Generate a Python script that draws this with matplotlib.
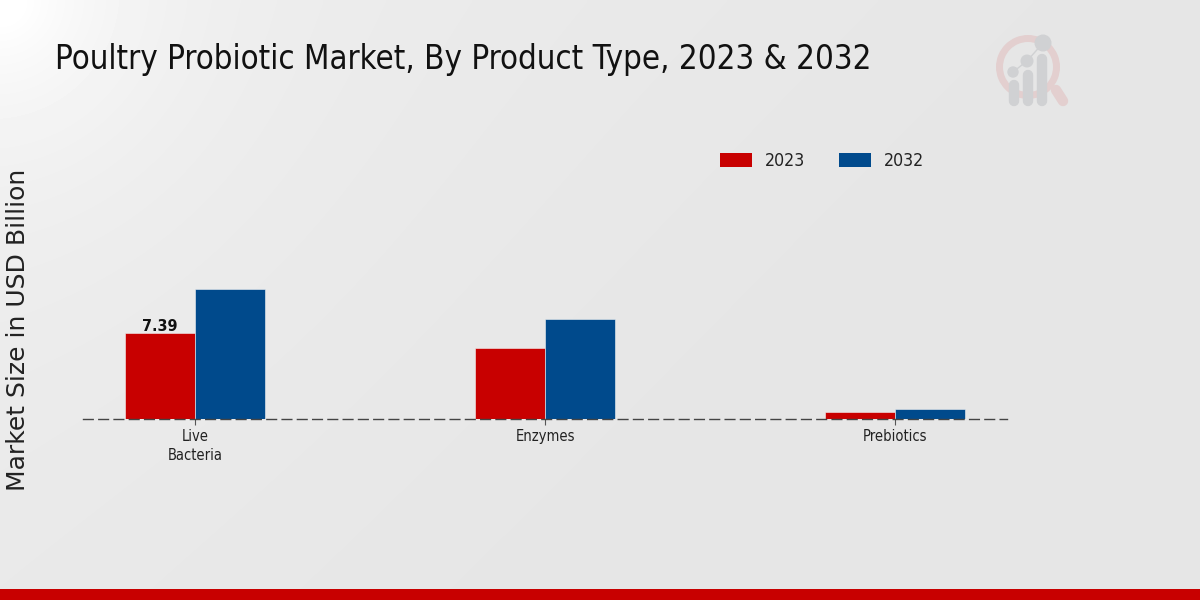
import matplotlib
matplotlib.use("Agg")
import matplotlib.pyplot as plt
from matplotlib.patches import Circle, Wedge
import numpy as np

categories = ["Live\nBacteria", "Enzymes", "Prebiotics"]
values_2023 = [7.39, 6.1, 0.6]
values_2032 = [11.15, 8.6, 0.9]
years = ["2023", "2032"]
RED = "#c80000"
BLUE = "#004a8c"
PINK = "#e3cfcf"
GREY = "#d0d1d3"
COND = dict(family="DejaVu Sans", stretch="condensed")

fig = plt.figure(figsize=(12, 6), dpi=100)

# background gradient, white top left to grey
bg = fig.add_axes([0, 0, 1, 1], zorder=0)
yy, xx = np.mgrid[0:1:150j, 0:1:300j]
dist = (xx * 2 + yy) / 3
shade = 0.9 + 0.085 * np.exp(-np.hypot(xx * 2, yy) / 0.2) + 0.025 * np.clip(1 - dist / 0.6, 0, 1) + 0.003 * np.clip(1 - dist, 0, 1)
bg.imshow(np.clip(shade, 0, 1), cmap="gray", vmin=0, vmax=1, aspect="auto",
          extent=[0, 1200, 600, 0], interpolation="bilinear")
bg.set_xlim(0, 1200)
bg.set_ylim(600, 0)
bg.axis("off")

# logo, in pixel coordinates
bg.add_patch(Wedge((1028, 67), 32, 0, 360, width=7, color=PINK, lw=0))
bg.plot([1056, 1063], [90, 101], color=PINK, lw=7.5, solid_capstyle="round")
for x, top in [(1014, 85), (1028, 75), (1042, 59)]:
    bg.plot([x, x], [top, 101], color=GREY, lw=7.5, solid_capstyle="round", zorder=3)
for x, y, r in [(1013, 72, 5.7), (1027, 61, 6.5), (1043, 43, 8.5)]:
    bg.add_patch(Circle((x, y), r, color=GREY, lw=0, zorder=3))
bg.plot([1013, 1027, 1043], [72, 61, 43], color=GREY, lw=1, zorder=3)

# footer strip
bg.fill_between([0, 1200], 589, 600, color=RED, lw=0)

ax = fig.add_axes([83 / 1200, 181 / 600, 924 / 1200, 279 / 600], zorder=1)
ax.patch.set_alpha(0)
x = np.arange(len(categories))
width = 0.2
ax.bar(x - width / 2, values_2023, width, color=RED, edgecolor="#f2f2f2", linewidth=0.4)
ax.bar(x + width / 2, values_2032, width, color=BLUE, edgecolor="#f2f2f2", linewidth=0.4)
ax.set_xlim(-0.32, 2.32)
ax.set_ylim(0, 24)
ax.set_yticks([])
ax.set_xticks(x)
ax.set_xticklabels(categories, fontsize=10.5, color="#222222", linespacing=1.3, **COND)
ax.tick_params(axis="x", length=4, width=0.8, color="#555555", pad=3.5)
for side in ["top", "right", "left"]:
    ax.spines[side].set_visible(False)
ax.spines["bottom"].set_color("#444444")
ax.spines["bottom"].set_linewidth(1)
ax.spines["bottom"].set_linestyle((0, (7, 4)))
ax.spines["bottom"].set_zorder(5)

ax.text(x[0] - width / 2, values_2023[0] - 0.05, "7.39", ha="center", va="bottom",
        fontsize=11.5, fontweight="bold", color="#111111", **COND)

fig.text(55 / 1200, 1 - 59 / 600, "Poultry Probiotic Market, By Product Type, 2023 & 2032",
         fontsize=23.7, color="#111111", va="center", ha="left", **COND)
fig.text(18 / 1200, 1 - 330 / 600, "Market Size in USD Billion", rotation=90,
         fontsize=18, color="#222222", va="center", ha="center")

# legend
for x0, col, label in [(720, RED, years[0]), (839, BLUE, years[1])]:
    bg.fill_between([x0, x0 + 32], 153, 167, color=col, lw=0)
    bg.text(x0 + 45, 160.5, label, fontsize=12.7, color="#222222", va="center", ha="left", **COND)

fig.savefig("out.png", dpi=100)
